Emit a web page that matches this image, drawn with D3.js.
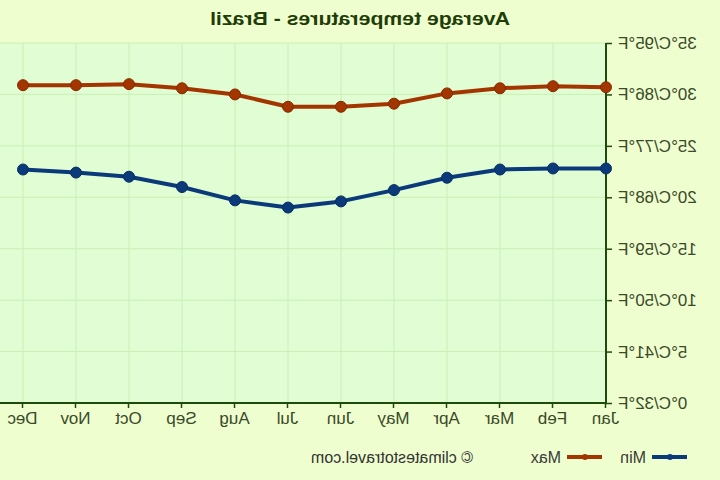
<!DOCTYPE html>
<html>
<head>
<meta charset="utf-8">
<script src="https://cdn.jsdelivr.net/npm/d3@7"></script>
<style>
  body { margin: 0; background: #effecf; }
  svg { display: block; font-family: "Liberation Sans", Arial, sans-serif; }
</style>
</head>
<body>
<div id="chart"></div>
<script>
var months = ["Jan", "Feb", "Mar", "Apr", "May", "Jun", "Jul", "Aug", "Sep", "Oct", "Nov", "Dec"];
var maxTemps = [30.7, 30.8, 30.6, 30.1, 29.1, 28.8, 28.8, 30.0, 30.6, 31.0, 30.9, 30.9];
var minTemps = [22.8, 22.8, 22.7, 21.9, 20.7, 19.6, 19.0, 19.7, 21.0, 22.0, 22.4, 22.7];
var yTicks = [0, 5, 10, 15, 20, 25, 30, 35];
var yTickLabels = ["0°C/32°F", "5°C/41°F", "10°C/50°F", "15°C/59°F", "20°C/68°F", "25°C/77°F", "30°C/86°F", "35°C/95°F"];
var seriesNames = ["Min", "Max"];

var svgWidth = 720;
var svgHeight = 480;
var plotLeft = 114, plotRight = 720, plotTop = 43, plotBottom = 403;

var maxColor = "#a23500";
var minColor = "#0b3a7a";

var svg = d3.select("#chart")
  .append("svg")
  .attr("width", svgWidth)
  .attr("height", svgHeight);

// the reference is a mirror image, so draw normally then flip
var root = svg.append("g")
  .attr("transform", "translate(" + svgWidth + ",0) scale(-1,1)");

root.append("rect")
  .attr("width", svgWidth).attr("height", svgHeight)
  .attr("fill", "#effecf");

root.append("rect")
  .attr("x", plotLeft).attr("y", plotTop)
  .attr("width", plotRight - plotLeft).attr("height", plotBottom - plotTop)
  .attr("fill", "#e1fdd3");

var xScale = d3.scalePoint()
  .domain(months)
  .range([plotLeft, 697]);

var yScale = d3.scaleLinear()
  .domain([0, 35])
  .range([plotBottom, plotTop]);

// gridlines
root.append("g")
  .selectAll("line")
  .data(yTicks)
  .enter()
  .append("line")
  .attr("x1", plotLeft).attr("x2", plotRight)
  .attr("y1", d => yScale(d)).attr("y2", d => yScale(d))
  .attr("stroke", "#c8f0b4").attr("stroke-width", 1);

root.append("g")
  .selectAll("line")
  .data(months)
  .enter()
  .append("line")
  .attr("x1", d => xScale(d)).attr("x2", d => xScale(d))
  .attr("y1", plotTop).attr("y2", plotBottom)
  .attr("stroke", "#c8f0b4").attr("stroke-width", 1);

// axes
var bottomAxis = d3.axisBottom(xScale).tickSize(5).tickPadding(4);
var leftAxis = d3.axisLeft(yScale)
  .tickValues(yTicks)
  .tickSize(6)
  .tickPadding(6)
  .tickFormat((d, i) => yTickLabels[i]);

var xAxisG = root.append("g")
  .attr("transform", "translate(0," + plotBottom + ")")
  .call(bottomAxis);
xAxisG.select(".domain").attr("d", "M" + plotLeft + ",0H" + plotRight);

var yAxisG = root.append("g")
  .attr("transform", "translate(" + plotLeft + ",0)")
  .call(leftAxis);
yAxisG.select(".domain").attr("d", "M0," + plotTop + "V" + plotBottom);

root.selectAll(".domain").attr("stroke", "#1e4a0c").attr("stroke-width", 2);
root.selectAll(".tick line").attr("stroke", "#1e4a0c").attr("stroke-width", 1.5);
root.selectAll(".tick text")
  .attr("fill", "#3a4a2a")
  .style("font-size", "17px")
  .style("font-family", "Liberation Sans, Arial, sans-serif");

// lines
var line = d3.line()
  .x((d, i) => xScale(months[i]))
  .y(d => yScale(d));

function drawSeries(values, color) {
  root.append("path")
    .datum(values)
    .attr("d", line)
    .attr("fill", "none")
    .attr("stroke", color)
    .attr("stroke-width", 4)
    .attr("stroke-linejoin", "round");

  root.append("g")
    .selectAll("circle")
    .data(values)
    .enter()
    .append("circle")
    .attr("cx", (d, i) => xScale(months[i]))
    .attr("cy", d => yScale(d))
    .attr("r", 5.5)
    .attr("fill", color)
    .attr("stroke", d3.color(color).darker(0.6))
    .attr("stroke-width", 1);
}

drawSeries(maxTemps, maxColor);
drawSeries(minTemps, minColor);

// title
root.append("text")
  .attr("x", 360)
  .attr("y", 25)
  .attr("text-anchor", "middle")
  .attr("textLength", 300)
  .attr("lengthAdjust", "spacingAndGlyphs")
  .style("font-size", "19px")
  .style("font-weight", "bold")
  .attr("fill", "#1f3d08")
  .text("Average temperatures - Brazil");

// legend
var legendColors = [minColor, maxColor];
var legendX = [33, 118];
var legend = root.append("g")
  .selectAll("g")
  .data(seriesNames)
  .enter()
  .append("g")
  .attr("transform", (d, i) => "translate(" + legendX[i] + ",457)");

legend.append("line")
  .attr("x1", 0).attr("x2", 35)
  .attr("stroke", (d, i) => legendColors[i])
  .attr("stroke-width", 4);
legend.append("circle")
  .attr("cx", 17).attr("r", 3)
  .attr("fill", (d, i) => legendColors[i]);
legend.append("text")
  .attr("x", 41).attr("y", 6)
  .style("font-size", "16px")
  .attr("fill", "#3a3a3a")
  .text(d => d);

root.append("text")
  .attr("x", 247)
  .attr("y", 463)
  .style("font-size", "16px")
  .attr("fill", "#333")
  .text("© climatestotravel.com");
</script>
</body>
</html>
